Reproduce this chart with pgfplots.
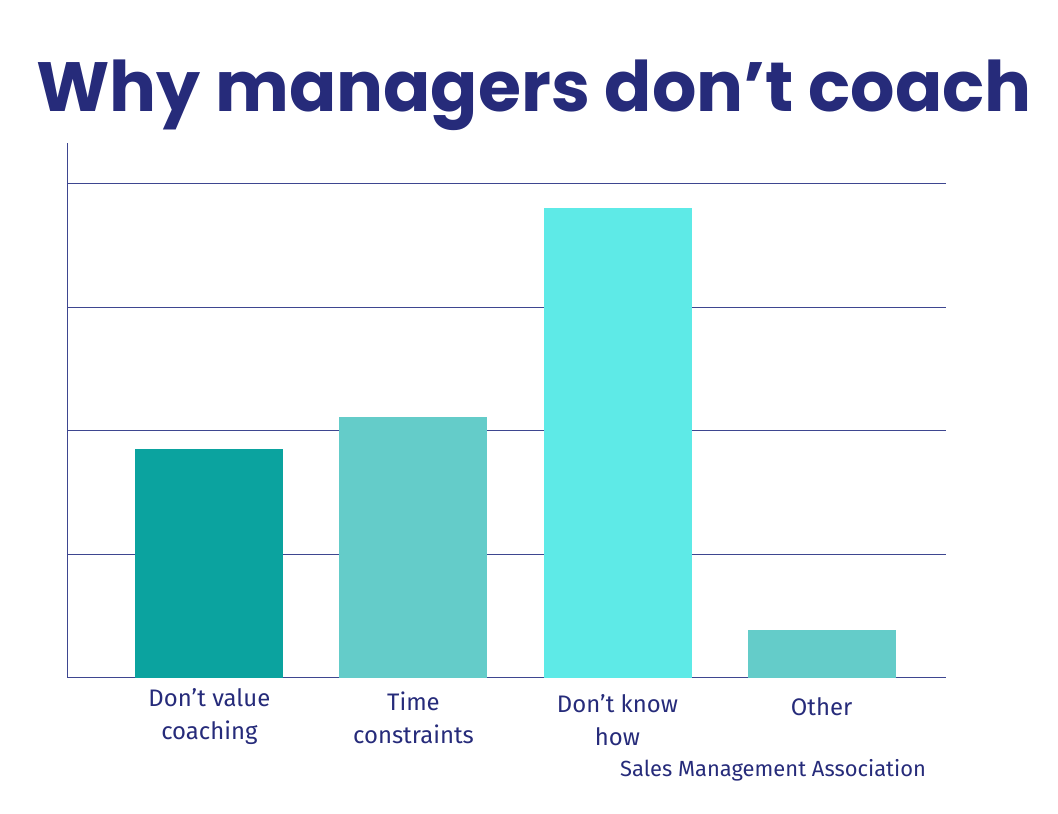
\documentclass[border=0pt]{standalone}
\usepackage{pgfplots}
\pgfplotsset{compat=1.18}
\usepackage{fontspec}
\setmainfont{Fira Sans}
\newfontfamily\titlefont{Poppins}
\definecolor{navy}{HTML}{262B7A}
\definecolor{gridnavy}{HTML}{3E4690}
\definecolor{tealdark}{HTML}{0BA39F}
\definecolor{tealmid}{HTML}{64CCC9}
\definecolor{teallight}{HTML}{5EEAE7}

\begin{document}
\begin{tikzpicture}[x=1bp,y=1bp]
\path[use as bounding box] (0,0) rectangle (1058,814);
\begin{axis}[
    at={(67bp,136bp)}, anchor=south west,
    scale only axis,
    width=879bp, height=535bp,
    xmin=-0.698, xmax=3.61,
    ymin=0, ymax=43.3,
    axis x line=bottom, axis y line=left,
    axis line style={gridnavy, line width=1pt, -},
    xtick={0,1,2,3},
    xticklabels={Don’t value\\coaching, Time\\constraints, Don’t know\\how, Other},
    xticklabel style={align=center, font=\fontsize{24}{33}\selectfont, text=navy, anchor=north, yshift={-7bp-3bp*\ticknum}},
    ytick={10,20,30,40},
    yticklabels={},
    major tick length=0pt,
    ymajorgrids=true,
    grid style={gridnavy, line width=0.9pt},
    ybar, bar width=148bp,
    bar shift=0pt,
]
\addplot[fill=tealdark, draw=none] coordinates {(0,18.5)};
\addplot[fill=tealmid, draw=none] coordinates {(1,21.1)};
\addplot[fill=teallight, draw=none] coordinates {(2,38.0)};
\addplot[fill=tealmid, draw=none] coordinates {(3,3.9)};
\end{axis}
\node[anchor=base, text=navy, font=\titlefont\bfseries\fontsize{70}{80}\selectfont] at (534,702) {Why managers don’t coach};
\node[anchor=base west, text=navy, inner sep=0, font=\fontsize{22}{26}\selectfont] at (620,37) {Sales Management Association};
\end{tikzpicture}
\end{document}
